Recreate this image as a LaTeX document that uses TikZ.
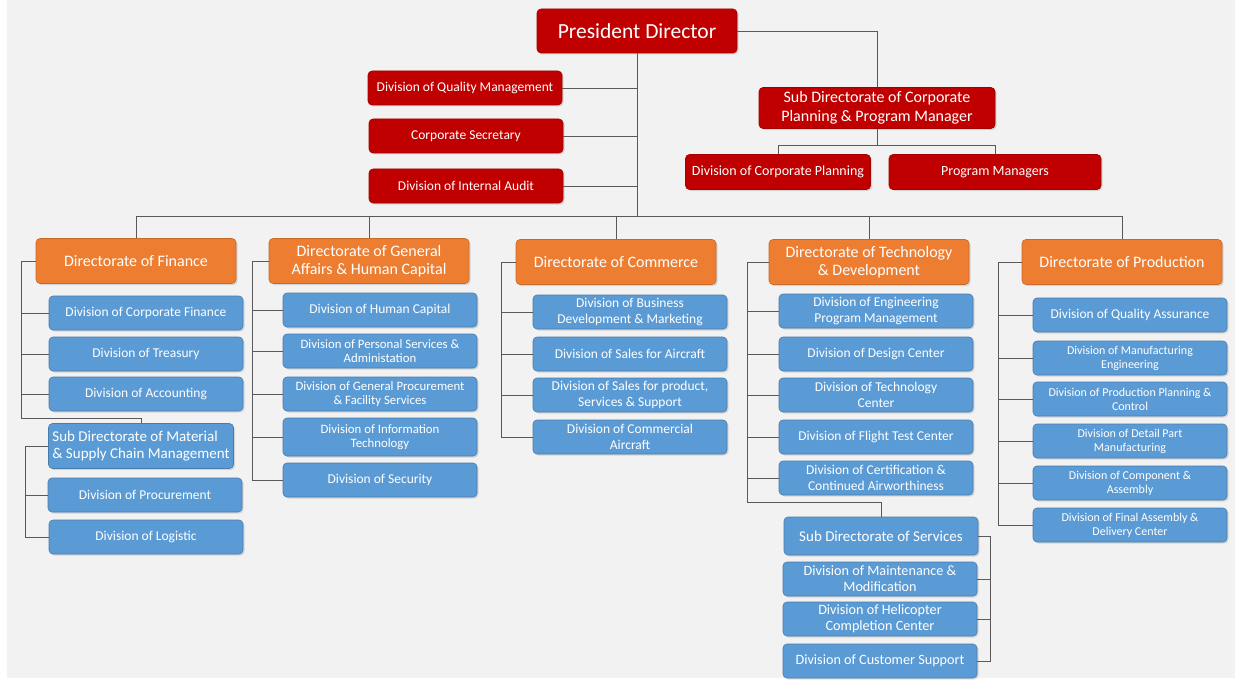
\documentclass[tikz,border=0pt]{standalone}
\usepackage{fontspec}
\setmainfont{Carlito}
\usetikzlibrary{positioning,shadows}
\definecolor{pdred}{HTML}{C00000}
\definecolor{dirorange}{HTML}{ED7D31}
\definecolor{divblue}{HTML}{5B9BD5}
\definecolor{linegray}{HTML}{595959}
\definecolor{bggray}{HTML}{F2F2F2}

\begin{document}
\begin{tikzpicture}[x=1pt,y=-1pt,
		box/.style={rounded corners=4pt,text=white,align=center,inner sep=0.5pt,line width=0.6pt,
			drop shadow={opacity=0.25,shadow xshift=1.5pt,shadow yshift=-1.5pt}},
		redbox/.style={box,fill=pdred,draw=pdred!85!black,minimum width=194,minimum height=34,
			font=\fontsize{13.5}{15}\selectfont},
		orangebox/.style={box,fill=dirorange,draw=dirorange!85!black,minimum width=200,minimum height=45,
			font=\fontsize{16}{18.5}\selectfont},
		bluebox/.style={box,fill=divblue,draw=divblue!80!black,minimum width=194,minimum height=34,
			font=\fontsize{13.5}{15.5}\selectfont},
		gatext/.style={font=\fontsize{12.8}{14.5}\selectfont},
		smalltext/.style={font=\fontsize{12}{14}\selectfont},
		link/.style={draw=linegray,line width=0.9pt}
		]
		\useasboundingbox (0,0) rectangle (1240,682);
		\fill[bggray] (7,0) rectangle (1235,678);
		
		% top management
		\node[redbox,minimum width=200,minimum height=44,font=\fontsize{21.5}{24}\selectfont] at (637,31) (pd) {President Director};
		\node[redbox] at (465,88) (qm) {Division of Quality Management};
		\node[redbox] at (466,136) (sec) {Corporate Secretary};
		\node[redbox] at (466,186) (aud) {Division of Internal Audit};
		\node[redbox,minimum width=236,minimum height=41,font=\fontsize{16}{18.5}\selectfont] at (877,108) (cpp) {Sub Directorate of Corporate\\Planning \& Program Manager};
		\node[redbox,minimum width=185,minimum height=35,font=\fontsize{14}{16}\selectfont] at (778,172) (cpl) {Division of Corporate Planning};
		\node[redbox,minimum width=212,minimum height=35,font=\fontsize{14}{16}\selectfont] at (995,172) (pm) {Program Managers};
		
		% directorates
		\node[orangebox] at (136,261) (fin) {Directorate of Finance};
		\node[orangebox] at (369,261) (ga) {Directorate of General\\Affairs \& Human Capital};
		\node[orangebox] at (616,262) (com) {Directorate of Commerce};
		\node[orangebox] at (869,262) (tech) {Directorate of Technology\\\& Development};
		\node[orangebox] at (1122,262) (prod) {Directorate of Production};
		
		% finance
		\node[bluebox] at (146,313) (fin1) {Division of Corporate Finance};
		\node[bluebox] at (146,354) (fin2) {Division of Treasury};
		\node[bluebox] at (146,394) (fin3) {Division of Accounting};
		\node[bluebox,minimum width=185,minimum height=45,align=left,font=\fontsize{15}{17.5}\selectfont] at (141,446) (msc) {Sub Directorate of Material\\\& Supply Chain Management};
		\node[bluebox] at (145,495) (msc1) {Division of Procurement};
		\node[bluebox] at (146,537) (msc2) {Division of Logistic};
		
		% general affairs & human capital
		\node[bluebox] at (380,310) (ga1) {Division of Human Capital};
		\node[bluebox,gatext] at (380,351) (ga2) {Division of Personal Services \&\\Administation};
		\node[bluebox,gatext] at (380,394) (ga3) {Division of General Procurement\\\& Facility Services};
		\node[bluebox,gatext,minimum height=38] at (380,437) (ga4) {Division of Information\\Technology};
		\node[bluebox] at (380,480) (ga5) {Division of Security};
		
		% commerce
		\node[bluebox] at (630,312) (com1) {Division of Business\\Development \& Marketing};
		\node[bluebox] at (630,354) (com2) {Division of Sales for Aircraft};
		\node[bluebox] at (630,395) (com3) {Division of Sales for product,\\Services \& Support};
		\node[bluebox] at (630,437) (com4) {Division of Commercial\\Aircraft};
		
		% technology & development
		\node[bluebox] at (876,311) (tech1) {Division of Engineering\\Program Management};
		\node[bluebox] at (876,354) (tech2) {Division of Design Center};
		\node[bluebox] at (876,395) (tech3) {Division of Technology\\Center};
		\node[bluebox] at (876,437) (tech4) {Division of Flight Test Center};
		\node[bluebox] at (876,478) (tech5) {Division of Certification \&\\Continued Airworthiness};
		\node[bluebox,minimum height=38,font=\fontsize{15}{17}\selectfont] at (881,536) (svc) {Sub Directorate of Services};
		\node[bluebox,font=\fontsize{14.2}{16}\selectfont] at (880,579) (svc1) {Division of Maintenance \&\\Modification};
		\node[bluebox,font=\fontsize{14.2}{16}\selectfont] at (880,619) (svc2) {Division of Helicopter\\Completion Center};
		\node[bluebox,font=\fontsize{14.2}{16}\selectfont] at (880,661) (svc3) {Division of Customer Support};
		
		% production
		\node[bluebox] at (1130,315) (prod1) {Division of Quality Assurance};
		\node[bluebox,smalltext] at (1130,358) (prod2) {Division of Manufacturing\\Engineering};
		\node[bluebox,smalltext] at (1130,399) (prod3) {Division of Production Planning \&\\Control};
		\node[bluebox,smalltext] at (1130,441) (prod4) {Division of Detail Part\\Manufacturing};
		\node[bluebox,smalltext] at (1130,483) (prod5) {Division of Component \&\\Assembly};
		\node[bluebox,smalltext] at (1130,525) (prod6) {Division of Final Assembly \&\\Delivery Center};
		
		% bus points
		\coordinate (bus) at (637,216);
		\coordinate (cppbus) at (877,145);
		\coordinate (finbus) at (21,418);
		\coordinate (mscbus) at (25,537);
		\coordinate (gabus) at (252,480);
		\coordinate (combus) at (501,437);
		\coordinate (techbus) at (747,502);
		\coordinate (svcbus) at (990,661);
		\coordinate (prodbus) at (998,525);
		
		% connectors
		\draw[link] (pd) -- (pd |- bus);
		\foreach \s in {qm,sec,aud} \draw[link] (\s.east) -- (\s.east -| pd);
		\draw[link] (pd.east) -| (cpp.north);
		\draw[link] (cpp.south) -- (cppbus);
		\foreach \d in {cpl,pm} \draw[link] (\d.north) |- (cppbus);
		\foreach \d in {fin,ga,com,tech,prod} \draw[link] (\d.north) |- (bus);
		
		\draw[link] (fin.west) -| (finbus) -| (msc.north);
		\foreach \d in {fin1,fin2,fin3} \draw[link] (\d.west) -- (\d.west -| finbus);
		\draw[link] (msc.west) -| (mscbus) -- (msc2.west);
		\draw[link] (msc1.west) -- (msc1.west -| mscbus);
		
		\draw[link] (ga.west) -| (gabus) -- (ga5.west);
		\foreach \d in {ga1,ga2,ga3,ga4} \draw[link] (\d.west) -- (\d.west -| gabus);
		
		\draw[link] (com.west) -| (combus) -- (com4.west);
		\foreach \d in {com1,com2,com3} \draw[link] (\d.west) -- (\d.west -| combus);
		
		\draw[link] (tech.west) -| (techbus) -| (svc.north);
		\foreach \d in {tech1,tech2,tech3,tech4,tech5} \draw[link] (\d.west) -- (\d.west -| techbus);
		\draw[link] (svc.east) -| (svcbus) -- (svc3.east);
		\foreach \d in {svc1,svc2} \draw[link] (\d.east) -- (\d.east -| svcbus);
		
		\draw[link] (prod.west) -| (prodbus) -- (prod6.west);
		\foreach \d in {prod1,prod2,prod3,prod4,prod5} \draw[link] (\d.west) -- (\d.west -| prodbus);
	\end{tikzpicture}
\end{document}
